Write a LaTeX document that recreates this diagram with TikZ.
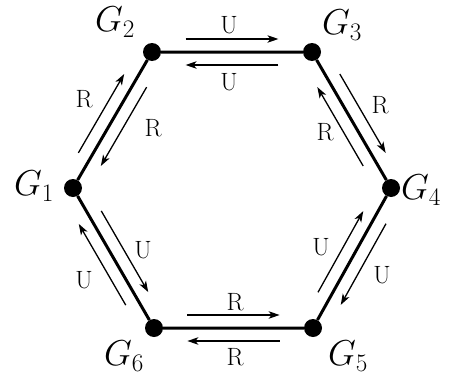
\RequirePackage{fix-cm}
\documentclass[tikz,border=0pt]{standalone}
\usetikzlibrary{calc,arrows.meta}
\newcommand\arrpair[2]{%
  \draw[mv] ($(#1)!0.21!(#2)!13pt!90:(#2)$) -- ($(#1)!0.79!(#2)!13pt!90:(#2)$);
  \draw[mv] ($(#2)!0.21!(#1)!13pt!90:(#1)$) -- ($(#2)!0.79!(#1)!13pt!90:(#1)$);
}
\begin{document}
\begin{tikzpicture}[x=1pt,y=-1pt,
  dot/.style={circle,fill=black,inner sep=0pt,minimum size=18pt},
  edge/.style={line width=3pt},
  mv/.style={line width=1.3pt,-{Stealth[length=11pt,width=7.5pt,inset=3pt]}},
  lab/.style={font=\fontsize{25}{30}\selectfont,inner sep=0pt},
  glab/.style={font=\fontsize{36}{40}\selectfont,inner sep=0pt}]
\useasboundingbox (0,0) rectangle (450,383);
\node[dot] (g1) at (73,188) {};
\node[dot] (g2) at (152,52) {};
\node[dot] (g3) at (312,52) {};
\node[dot] (g4) at (391,188) {};
\node[dot] (g5) at (313,328) {};
\node[dot] (g6) at (154,328) {};
\draw[edge] (g1) -- (g2) -- (g3) -- (g4) -- (g5) -- (g6) -- (g1);
\arrpair{g1}{g2}
\arrpair{g2}{g3}
\arrpair{g3}{g4}
\arrpair{g4}{g5}
\arrpair{g5}{g6}
\arrpair{g6}{g1}
% G labels
\node[glab] (l1) at (34,186) {$G_1$};
\node[glab] (l2) at (115,22) {$G_2$};
\node[glab] (l3) at (342,25) {$G_3$};
\node[glab] (l4) at (421,190) {$G_4$};
\node[glab] (l5) at (348,356) {$G_5$};
\node[glab] (l6) at (124,356) {$G_6$};
% move labels
\node[lab] (u1) at (229,25.5) {U};
\node[lab] (u2) at (229,82.5) {U};
\node[lab] (r1) at (84,99) {R};
\node[lab] (r2) at (153,128) {R};
\node[lab] (r3) at (380,105) {R};
\node[lab] (r4) at (325,132) {R};
\node[lab] (u3) at (382,275) {U};
\node[lab] (u4) at (321,247) {U};
\node[lab] (r5) at (235,302) {R};
\node[lab] (r6) at (235,357) {R};
\node[lab] (u5) at (84,280) {U};
\node[lab] (u6) at (143,250) {U};
\end{tikzpicture}
\end{document}
